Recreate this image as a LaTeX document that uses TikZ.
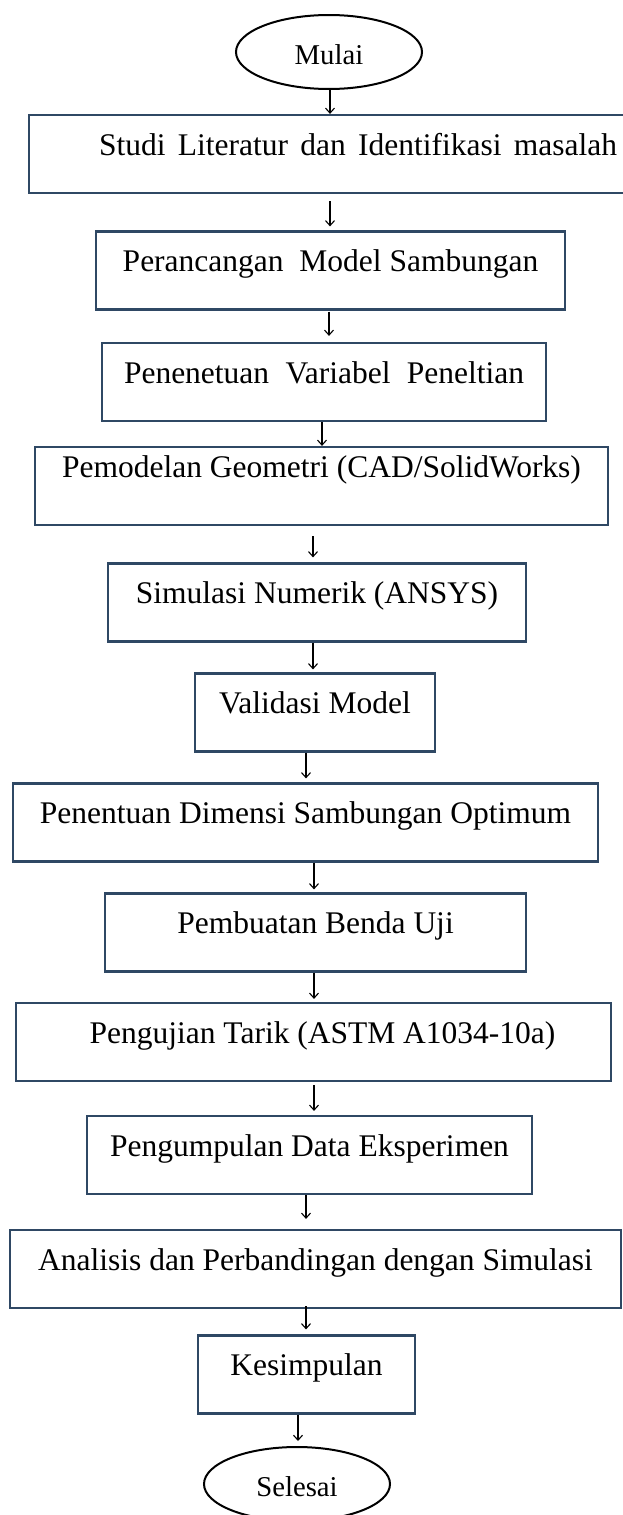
\documentclass[tikz,border=0pt]{standalone}
\usepackage{fontspec}
\setmainfont{Liberation Serif}
\usepackage{xcolor}
\usetikzlibrary{shapes.geometric, arrows.meta}
\definecolor{boxblue}{RGB}{47,72,100}

\begin{document}
\begin{tikzpicture}[x=1pt, y=-1pt,
        stepbox/.style={draw=boxblue, line width=2.2pt, minimum width=#1, minimum height=78pt,
            inner sep=0pt, text height=22pt, text depth=20pt, font=\fontsize{31.5pt}{36pt}\selectfont},
        terminal/.style={draw, ellipse, line width=2pt, minimum width=186pt, minimum height=74pt,
            inner sep=0pt, text height=24pt, text depth=0pt, font=\fontsize{28.7pt}{34pt}\selectfont},
        flow/.style={-{Straight Barb[length=5pt, width=9pt]}, line width=1.1pt}]
        \useasboundingbox (0,0) rectangle (622,1515);
        \node[terminal] (mulai) at (329,52) {Mulai};
        \node[stepbox=658pt] (studi) at (358,154) {\makebox[518pt][s]{Studi Literatur dan Identifikasi masalah}};
        \node[stepbox=469pt] (rancang) at (330.5,270.5) {Perancangan\ \ Model Sambungan};
        \node[stepbox=444pt] (variabel) at (324,382) {\makebox[400pt][s]{Penenetuan Variabel Peneltian}};
        \node[stepbox=573pt, text depth=40pt] (geometri) at (321.5,486) {Pemodelan Geometri (CAD/SolidWorks)};
        \node[stepbox=418pt] (simulasi) at (317,602.5) {Simulasi Numerik (ANSYS)\hspace{9pt}};
        \node[stepbox=240pt] (validasi) at (315,712.5) {Validasi Model};
        \node[stepbox=585pt] (dimensi) at (305.5,822.5) {Penentuan Dimensi Sambungan Optimum};
        \node[stepbox=421pt] (bendauji) at (315.5,932.5) {Pembuatan Benda Uji};
        \node[stepbox=595pt] (tarik) at (313.5,1042) {\hspace{18pt}Pengujian Tarik (ASTM A1034-10a)};
        \node[stepbox=445pt] (data) at (309.5,1155) {Pengumpulan Data Eksperimen};
        \node[stepbox=611pt] (analisis) at (315.5,1269) {Analisis dan Perbandingan dengan Simulasi};
        \node[stepbox=217pt] (simpul) at (306.5,1374.5) {Kesimpulan\hspace{19pt}};
        \node[terminal] (selesai) at (297,1484) {Selesai};
        % panah antar langkah: dari/ke/x/jarak awal/jarak akhir
        \foreach \a/\b/\x/\s/\e in {mulai/studi/330/0/0, studi/rancang/330/7/4, rancang/variabel/329/1/6,
                variabel/geometri/322/0/0, geometri/simulasi/313/10/5, simulasi/validasi/313/0/3,
                validasi/dimensi/306/0/4, dimensi/bendauji/314/0/3, bendauji/tarik/314/0/3,
                tarik/data/314/3/4, data/analisis/306/0/10, analisis/simpul/306/-3/5, simpul/selesai/298/0/5}
            \draw[flow, shorten <=\s pt, shorten >=\e pt] (\a.south -| \x,0) -- (\b.north -| \x,0);
\end{tikzpicture}
\end{document}
